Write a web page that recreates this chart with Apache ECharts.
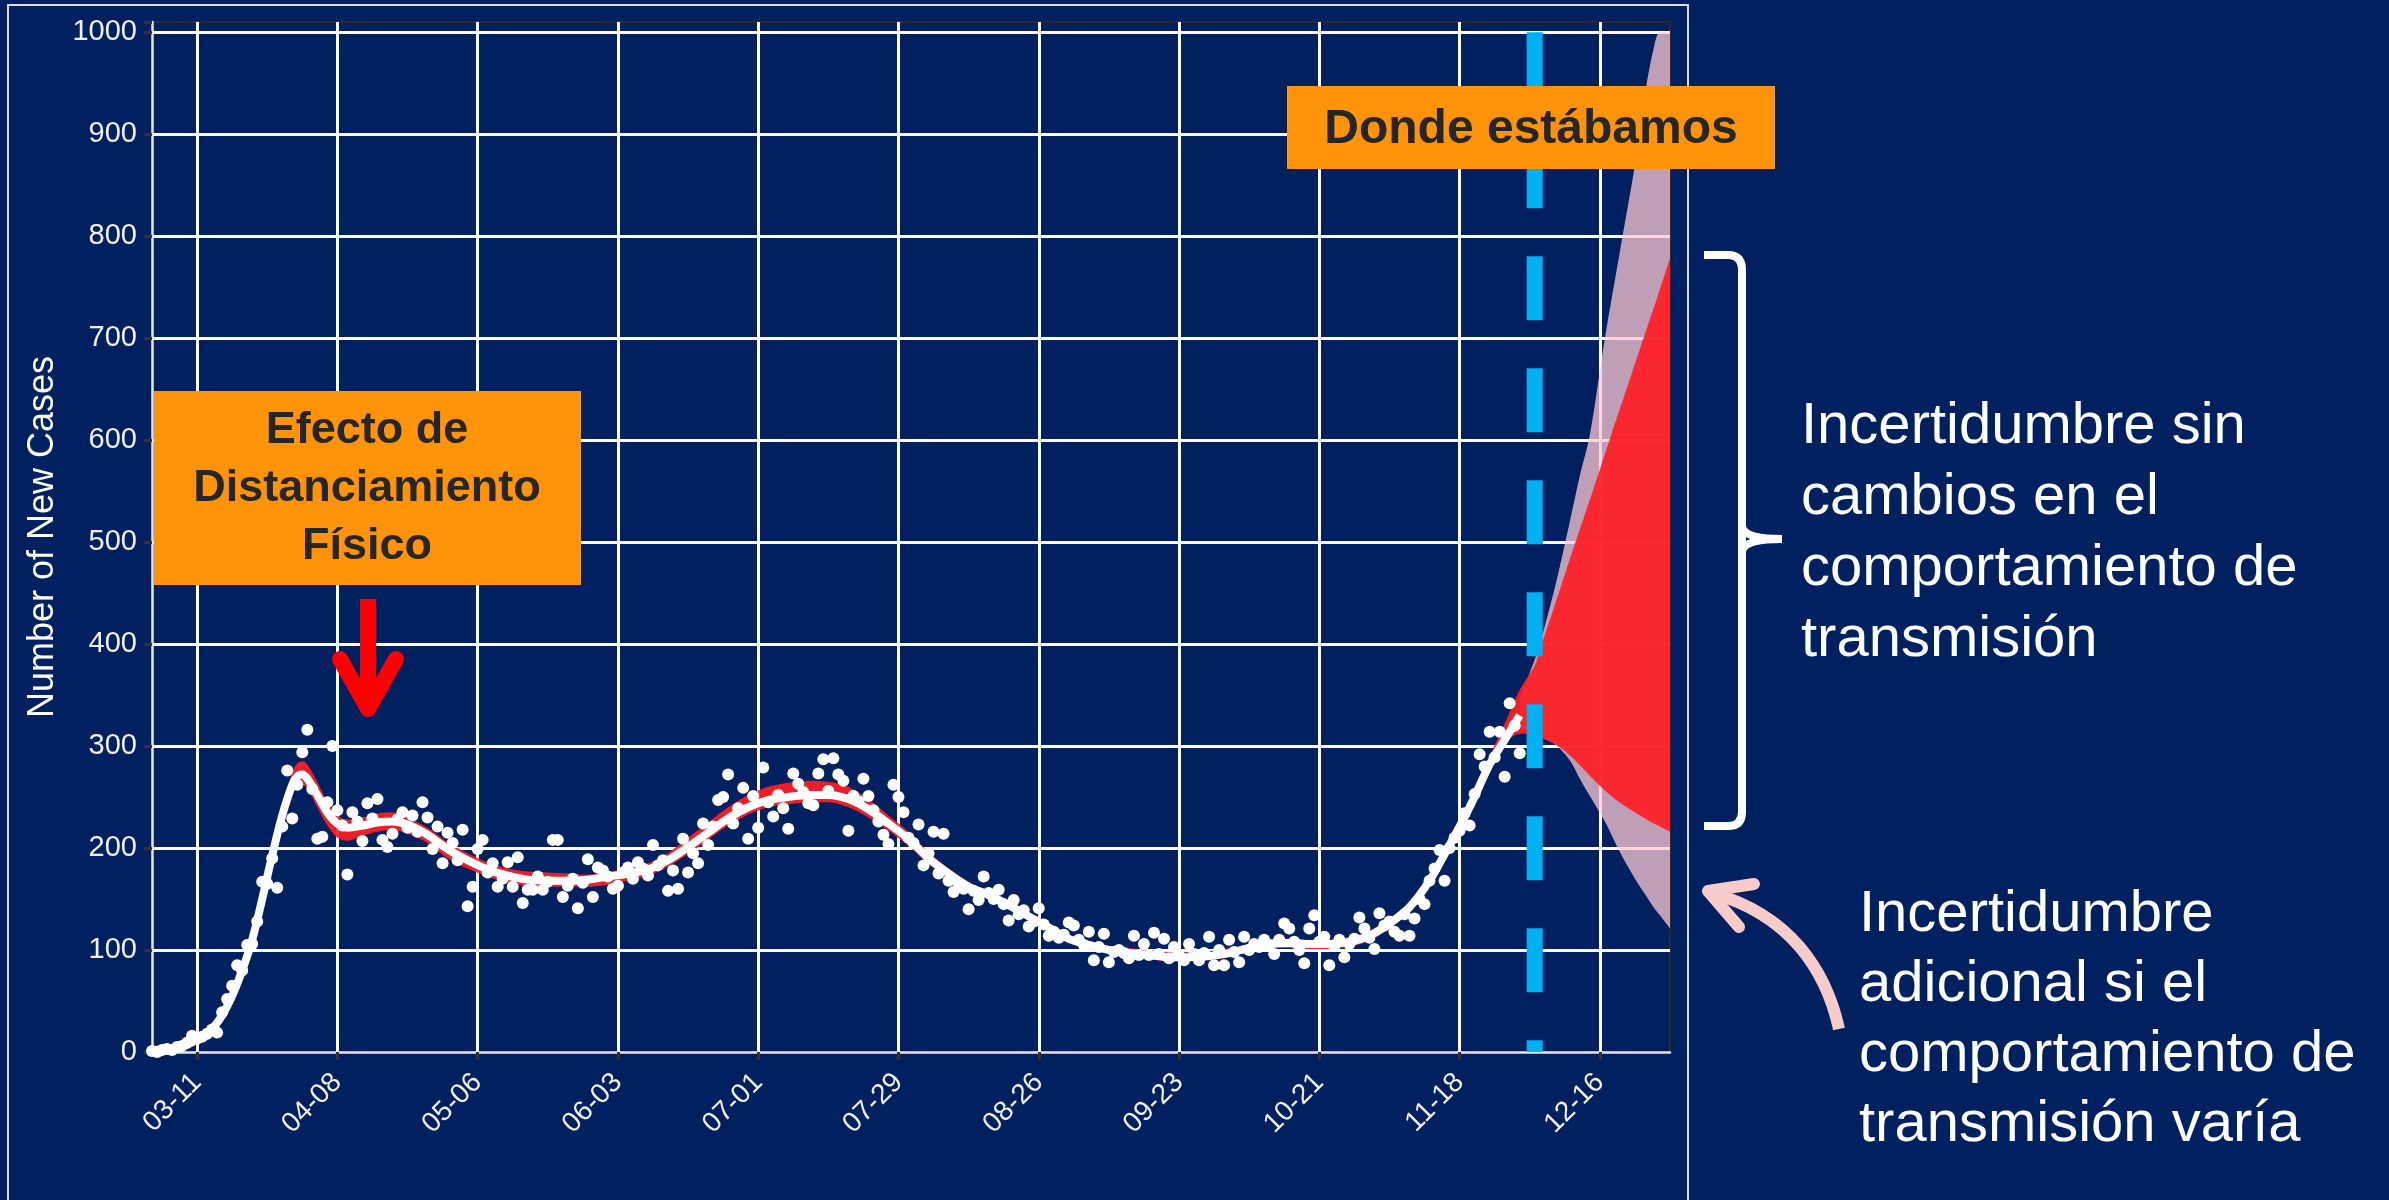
<!DOCTYPE html>
<html>
<head>
<meta charset="utf-8">
<script src="https://cdn.jsdelivr.net/npm/echarts@6/dist/echarts.min.js"></script>
<style>
  html, body { margin: 0; padding: 0; background: #002060; }
  #chart { width: 2389px; height: 1200px; }
</style>
</head>
<body>
<div id="chart"></div>
<script>
// ---------- DATA ----------
// x categories: every day from 2020-03-02 to 2020-12-30 (labels MM-DD)
const firstDay = '2020-03-02';
const lastDay = '2020-12-30';
function buildDays(a, b) {
  const out = [];
  let d = new Date(a + 'T00:00:00Z');
  const e = new Date(b + 'T00:00:00Z');
  while (d <= e) {
    out.push(String(d.getUTCMonth() + 1).padStart(2, '0') + '-' + String(d.getUTCDate()).padStart(2, '0'));
    d = new Date(d.getTime() + 86400000);
  }
  return out;
}
const days = buildDays(firstDay, lastDay);

// labelled x ticks
const tickDates = ['03-11', '04-08', '05-06', '06-03', '07-01', '07-29', '08-26', '09-23', '10-21', '11-18', '12-16'];

// y axis
const yMin = 0, yMax = 1010, yStep = 100, yLabelMax = 1000;

// daily observed new cases, one per day from 03-02 to 11-30
const dailyCases = [
  1, 0, 2, 3, 2, 5, 6, 9, 16, 13,
  15, 18, 22, 19, 39, 52, 65, 85, 80, 105,
  106, 128, 167, 165, 190, 161, 221, 276, 229, 262,
  294, 316, 258, 209, 211, 245, 300, 237, 222, 174,
  235, 226, 207, 244, 229, 248, 208, 201, 214, 228,
  235, 220, 232, 216, 245, 230, 199, 221, 185, 215,
  205, 188, 218, 143, 162, 199, 208, 176, 185, 162,
  170, 186, 162, 191, 146, 159, 159, 172, 159, 167,
  208, 208, 152, 163, 170, 141, 166, 189, 152, 181,
  178, 172, 160, 163, 176, 181, 170, 186, 180, 173,
  203, 183, 188, 158, 178, 160, 209, 176, 195, 185,
  224, 203, 221, 247, 250, 272, 224, 239, 259, 209,
  251, 220, 279, 245, 231, 252, 239, 219, 273, 263,
  255, 244, 242, 273, 287, 256, 288, 272, 266, 217,
  251, 246, 268, 251, 237, 226, 213, 204, 262, 250,
  235, 210, 205, 223, 183, 195, 216, 175, 214, 168,
  157, 165, 160, 140, 158, 149, 172, 156, 150, 159,
  145, 129, 149, 135, 139, 123, 128, 141, 125, 114,
  118, 112, 115, 127, 124, 110, 105, 118, 90, 103,
  116, 88, 98, 100, 97, 92, 114, 95, 106, 95,
  117, 96, 111, 92, 103, 95, 90, 106, 96, 90,
  97, 113, 85, 100, 85, 110, 98, 88, 113, 100,
  106, 103, 110, 105, 96, 110, 126, 121, 108, 100,
  87, 121, 134, 108, 113, 85, 104, 110, 93, 106,
  111, 132, 121, 112, 101, 136, 124, 128, 118, 114,
  135, 114, 131, 150, 145, 168, 180, 198, 168, 200,
  210, 217, 234, 222, 253, 292, 280, 314, 289, 314,
  270, 342, 320, 293
];

// smoothed fit (white line)
const fitDates = ['03-02','03-07','03-11','03-14','03-16','03-18','03-20','03-22','03-24','03-26',
  '03-28','03-30','03-31','04-01','04-02','04-04','04-06','04-08','04-10','04-13',
  '04-16','04-19','04-22','04-26','04-30','05-04','05-08','05-12','05-16','05-20',
  '05-24','05-28','06-01','06-05','06-09','06-13','06-17','06-21','06-25','06-29',
  '07-03','07-07','07-11','07-15','07-19','07-23','07-27','07-31','08-04','08-08',
  '08-12','08-16','08-20','08-24','08-28','09-01','09-05','09-09','09-13','09-17',
  '09-21','09-25','09-29','10-03','10-07','10-11','10-15','10-19','10-23','10-27',
  '10-31','11-04','11-08','11-12','11-16','11-20','11-24','11-27','11-30'];
const fitCases = [2,4,12,23,36,55,80,110,150,193,
  232,262,270,272,268,252,235,224,220,222,
  225,226,223,213,199,188,179,173,169,168,
  168,169,172,175,179,188,201,215,229,240,
  247,250,252,252,248,238,224,209,190,175,
  162,154,144,133,122,111,105,100,97,95,
  93,93,94,97,102,106,107,106,106,108,
  114,126,142,168,203,240,282,306,330];

// red band: model interval (history + projection without behaviour change)
const ribbonDates = fitDates.concat(['12-03','12-04','12-07','12-10','12-13','12-16','12-19','12-22','12-25','12-28','12-30']);
const ribbonLow = [0,1,8,19,32,51,76,106,146,189,
  228,256,262,262,258,240,222,210,207,212,
  216,218,214,205,190,180,172,166,163,162,
  162,162,164,168,173,182,194,208,222,233,
  240,243,245,245,240,230,217,202,184,170,
  157,150,140,129,118,107,101,96,93,91,
  89,89,90,93,98,102,102,101,101,103,
  109,121,137,163,197,234,276,302,312,
  311,309,302,291,276,261,248,238,229,221,216];
const ribbonHigh = [4,7,16,27,40,59,84,114,154,197,
  236,275,283,285,282,265,245,232,228,230,
  234,235,230,220,206,195,186,180,177,176,
  175,174,177,180,185,195,210,225,240,252,
  260,264,266,265,260,248,232,216,196,180,
  167,158,148,137,126,115,109,104,102,100,
  98,98,99,102,106,110,111,110,110,113,
  119,131,147,174,209,247,290,322,355,
  379,394,438,483,527,571,616,660,704,748,778];

// pink band: extra uncertainty if behaviour changes
const varDates = ['11-30','12-03','12-04','12-07','12-10','12-12','12-14','12-17','12-20','12-23','12-25','12-27','12-28','12-30'];
const varLow  = [318,311,309,302,286,268,251,226,196,170,155,140,134,121];
const varHigh = [346,385,400,455,520,565,605,700,785,870,940,990,1000,1000];

// "where we were" marker
const todayDate = '12-03';
const todayTop = 1000;

// ---------- CHART ----------
const FONT = '"Liberation Sans", Arial, Helvetica, sans-serif';
const showTick = (i, v) => tickDates.indexOf(v) >= 0;
const RED = 'rgba(255,30,35,0.93)';
const PINK = 'rgba(255,200,212,0.75)';

const chart = echarts.init(document.getElementById('chart'), null, { renderer: 'canvas' });

const option = {
  animation: false,
  backgroundColor: '#002060',
  textStyle: { fontFamily: FONT },
  grid: {
    left: 152, right: 719, top: 22, bottom: 148,
    show: true, borderColor: '#2b2b2b', borderWidth: 2, backgroundColor: 'transparent'
  },
  xAxis: {
    type: 'category',
    data: days,
    boundaryGap: false,
    axisLine: { show: true, lineStyle: { color: '#e6e6e6', width: 2.5 } },
    axisTick: { show: true, interval: showTick, length: 8, lineStyle: { color: '#333333', width: 3 } },
    axisLabel: { interval: showTick, rotate: 45, margin: 26, fontSize: 28, color: '#f0f0f0', fontFamily: FONT },
    splitLine: { show: true, interval: showTick, lineStyle: { color: '#ffffff', width: 3 } }
  },
  yAxis: {
    type: 'value',
    min: yMin, max: yMax, interval: yStep,
    name: 'Number of New Cases',
    nameLocation: 'middle',
    nameGap: 91,
    nameTextStyle: { color: '#ffffff', fontSize: 36, fontFamily: FONT },
    axisLine: { show: true, lineStyle: { color: '#e6e6e6', width: 2.5 } },
    axisTick: { show: true, length: 8, lineStyle: { color: '#333333', width: 3 } },
    axisLabel: {
      margin: 15, fontSize: 29, color: '#f0f0f0', fontFamily: FONT,
      formatter: v => (v > yLabelMax ? '' : String(v))
    },
    splitLine: { show: true, showMaxLine: false, showMinLine: false, lineStyle: { color: '#ffffff', width: 3 } }
  },
  series: [
    // pink band
    {
      type: 'line', stack: 'var', z: 2, symbol: 'none', smooth: 0.3,
      data: varDates.map((d, i) => [d, varLow[i]]),
      lineStyle: { width: 0, opacity: 0 }
    },
    {
      type: 'line', stack: 'var', z: 2, symbol: 'none', smooth: 0.3,
      data: varDates.map((d, i) => [d, varHigh[i] - varLow[i]]),
      lineStyle: { width: 0, opacity: 0 },
      areaStyle: { color: PINK, opacity: 1 }
    },
    // red band
    {
      type: 'line', stack: 'ribbon', z: 3, symbol: 'none', smooth: 0.3,
      data: ribbonDates.map((d, i) => [d, ribbonLow[i]]),
      lineStyle: { width: 0, opacity: 0 }
    },
    {
      type: 'line', stack: 'ribbon', z: 3, symbol: 'none', smooth: 0.3,
      data: ribbonDates.map((d, i) => [d, ribbonHigh[i] - ribbonLow[i]]),
      lineStyle: { width: 0, opacity: 0 },
      areaStyle: { color: RED, opacity: 1 }
    },
    // white fit line
    {
      type: 'line', z: 4, symbol: 'none', smooth: 0.3,
      data: fitDates.map((d, i) => [d, fitCases[i]]),
      lineStyle: { color: '#ffffff', width: 8 }
    },
    // observed points
    {
      type: 'scatter', z: 5, symbol: 'circle', symbolSize: 12,
      data: dailyCases.map((v, i) => [days[i], v]),
      itemStyle: { color: '#ffffff', opacity: 1 }
    },
    // dashed "today" line
    {
      type: 'line', z: 6, symbol: 'none',
      data: [[todayDate, todayTop], [todayDate, 0]],
      lineStyle: { color: '#00b0f0', width: 16, type: [64, 48], cap: 'butt' }
    }
  ],
  graphic: [
    // outer frame
    { type: 'rect', z: 50, shape: { x: 8, y: 5, width: 1680, height: 1210 },
      style: { fill: 'none', stroke: '#dcdcdc', lineWidth: 2 } },
    // box: Efecto de Distanciamiento Fisico
    { type: 'rect', z: 100, shape: { x: 154, y: 391, width: 427, height: 194 }, style: { fill: '#ff940a' } },
    { type: 'text', z: 101, x: 367, y: 489,
      style: { text: 'Efecto de\nDistanciamiento\nFísico', font: 'bold 45px ' + FONT, fill: '#262626',
               align: 'center', verticalAlign: 'middle', textAlign: 'center', textVerticalAlign: 'middle', lineHeight: 58 } },
    // red arrow
    { type: 'line', z: 100, shape: { x1: 368, y1: 599, x2: 368, y2: 706 },
      style: { stroke: '#ff0000', lineWidth: 16, lineCap: 'butt' } },
    { type: 'polyline', z: 100, shape: { points: [[340, 659], [368, 709], [396, 659]] },
      style: { stroke: '#ff0000', lineWidth: 16, lineCap: 'round', lineJoin: 'round', fill: 'none' } },
    // box: Donde estabamos
    { type: 'rect', z: 100, shape: { x: 1287, y: 86, width: 488, height: 83 }, style: { fill: '#ff940a' } },
    { type: 'text', z: 101, x: 1531, y: 130,
      style: { text: 'Donde estábamos', font: 'bold 48px ' + FONT, fill: '#262626',
               align: 'center', verticalAlign: 'middle', textAlign: 'center', textVerticalAlign: 'middle' } },
    // brace
    { type: 'polyline', z: 100, shape: { points: [[1704, 255], [1728, 255]] },
      style: { stroke: '#ffffff', lineWidth: 8, fill: 'none' } },
    { type: 'bezierCurve', z: 100, shape: { x1: 1728, y1: 255, cpx1: 1742, cpy1: 255, x2: 1742, y2: 270 },
      style: { stroke: '#ffffff', lineWidth: 8, fill: 'none' } },
    { type: 'line', z: 100, shape: { x1: 1742, y1: 270, x2: 1742, y2: 812 },
      style: { stroke: '#ffffff', lineWidth: 8 } },
    { type: 'bezierCurve', z: 100, shape: { x1: 1742, y1: 527, cpx1: 1745, cpy1: 539, x2: 1782, y2: 539 },
      style: { stroke: '#ffffff', lineWidth: 8, fill: 'none' } },
    { type: 'bezierCurve', z: 100, shape: { x1: 1782, y1: 539, cpx1: 1745, cpy1: 539, x2: 1742, y2: 551 },
      style: { stroke: '#ffffff', lineWidth: 8, fill: 'none' } },
    { type: 'bezierCurve', z: 100, shape: { x1: 1742, y1: 812, cpx1: 1742, cpy1: 826, x2: 1728, y2: 826 },
      style: { stroke: '#ffffff', lineWidth: 8, fill: 'none' } },
    { type: 'polyline', z: 100, shape: { points: [[1728, 826], [1704, 826]] },
      style: { stroke: '#ffffff', lineWidth: 8, fill: 'none' } },
    // pink curved arrow
    { type: 'bezierCurve', z: 100,
      shape: { x1: 1839, y1: 1029, cpx1: 1826, cpy1: 970, cpx2: 1790, cpy2: 915, x2: 1712, y2: 893 },
      style: { stroke: '#f8cbcb', lineWidth: 12, fill: 'none', lineCap: 'butt' } },
    { type: 'polyline', z: 100, shape: { points: [[1754, 884], [1708, 891], [1739, 927]] },
      style: { stroke: '#f8cbcb', lineWidth: 12, lineCap: 'round', lineJoin: 'round', fill: 'none' } },
    // right texts
    { type: 'text', z: 101, x: 1801, y: 533,
      style: { text: 'Incertidumbre sin\ncambios en el\ncomportamiento de\ntransmisión', font: '58px ' + FONT, fill: '#ffffff',
               align: 'left', verticalAlign: 'middle', textAlign: 'left', textVerticalAlign: 'middle', lineHeight: 71 } },
    { type: 'text', z: 101, x: 1859, y: 1020,
      style: { text: 'Incertidumbre\nadicional si el\ncomportamiento de\ntransmisión varía', font: '58px ' + FONT, fill: '#ffffff',
               align: 'left', verticalAlign: 'middle', textAlign: 'left', textVerticalAlign: 'middle', lineHeight: 70 } }
  ]
};
chart.setOption(option);
</script>
</body>
</html>
